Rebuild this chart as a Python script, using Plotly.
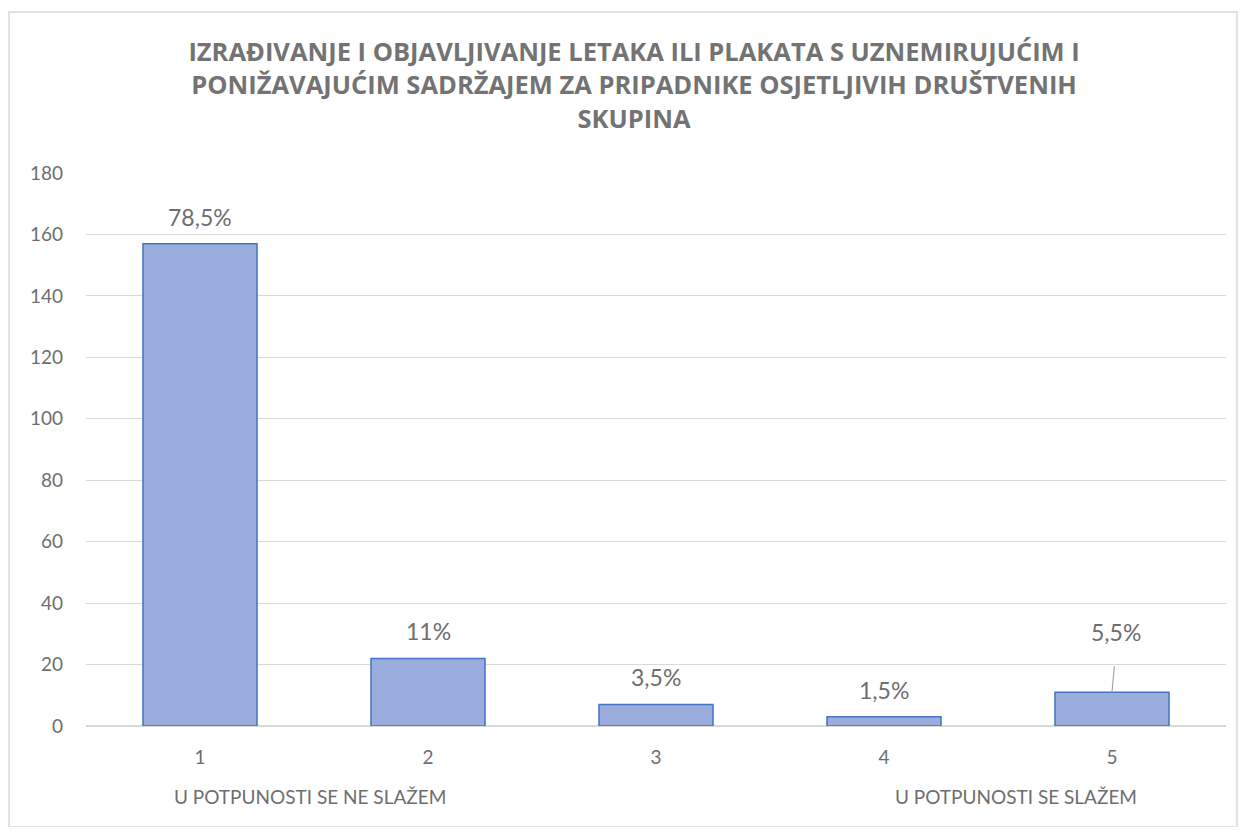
import plotly.graph_objects as go

# ─── DATA ───────────────────────────────────────────────────────
categories = ["1", "2", "3", "4", "5"]
counts = [157, 22, 7, 3, 11]
pct_labels = ["78,5%", "11%", "3,5%", "1,5%", "5,5%"]
y_ticks = [0, 20, 40, 60, 80, 100, 120, 140, 160, 180]

TITLE = ("IZRAĐIVANJE I OBJAVLJIVANJE LETAKA ILI PLAKATA S UZNEMIRUJUĆIM I<br>"
         "PONIŽAVAJUĆIM SADRŽAJEM ZA PRIPADNIKE OSJETLJIVIH DRUŠTVENIH<br>SKUPINA")
LEFT_NOTE = "U POTPUNOSTI SE NE SLAŽEM"
RIGHT_NOTE = "U POTPUNOSTI SE SLAŽEM"

GRAY = "#6E6E6E"
GRID = "#D9D9D9"
FONT = "Lato"

fig = go.Figure(go.Bar(
    x=categories, y=counts,
    marker=dict(color="#9BADDD", line=dict(color="#4472C4", width=1.5)),
    hoverinfo="skip",
))

# data labels; the last one sits higher with a leader line
for i, (v, t) in enumerate(zip(counts, pct_labels)):
    if i == len(counts) - 1:
        fig.add_annotation(x=i, y=v, text=t, showarrow=True, arrowhead=0,
                           arrowwidth=1.2, arrowcolor="#A6A6A6", ax=4, ay=-44,
                           startstandoff=18, yanchor="bottom",
                           font=dict(size=23, color=GRAY, family=FONT))
    else:
        fig.add_annotation(x=i, y=v, text=t, showarrow=False, yanchor="bottom",
                           yshift=11, font=dict(size=23, color=GRAY, family=FONT))

fig.add_annotation(x=0.0754, y=-0.128, xref="paper", yref="paper", text=LEFT_NOTE,
                   showarrow=False, xanchor="left", yanchor="middle",
                   font=dict(size=19, color=GRAY, family=FONT))
fig.add_annotation(x=0.708, y=-0.128, xref="paper", yref="paper", text=RIGHT_NOTE,
                   showarrow=False, xanchor="left", yanchor="middle",
                   font=dict(size=19, color=GRAY, family=FONT))

# chart border
fig.add_shape(type="rect", xref="paper", yref="paper",
              x0=-0.0675, x1=1.0096, y0=-0.1826, y1=1.291,
              line=dict(color=GRID, width=1.5), fillcolor="rgba(0,0,0,0)")

fig.update_layout(
    width=1230, height=819,
    paper_bgcolor="white", plot_bgcolor="white",
    margin=dict(l=78, r=12, t=165, b=101),
    showlegend=False, bargap=0.5,
    title=dict(text=TITLE, x=0.509, xanchor="center", y=0.935, yanchor="top",
               font=dict(size=25.5, color="#737373", family="Open Sans", weight="bold")),
    xaxis=dict(type="category", showgrid=False, showline=False, ticks="",
               ticklabelstandoff=18, tickfont=dict(size=19, color=GRAY, family=FONT)),
    yaxis=dict(range=[0, 180], tickvals=y_ticks, showgrid=True, gridcolor=GRID,
               gridwidth=1.2, zeroline=True, zerolinecolor=GRID, zerolinewidth=1.5,
               ticks="", ticklabelstandoff=22,
               tickfont=dict(size=19, color=GRAY, family=FONT)),
)

fig.write_html("out.html")
